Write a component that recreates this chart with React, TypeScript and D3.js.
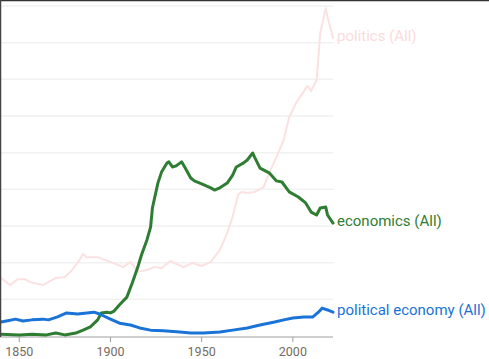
import React from "react";
import * as d3 from "d3";

const politicsYears = [1840,1845,1849,1853,1856,1863,1870,1875,1879,1883,1885,1887,1893,1900,1907,1911,1915,1920,1924,1928,1933,1935,1940,1945,1950,1955,1960,1964,1967,1970,1972,1975,1979,1984,1987,1991,1995,1998,2002,2008,2010,2013,2015,2018,2019,2022];
const politicsValues = [1.58,1.39,1.55,1.55,1.47,1.39,1.58,1.61,1.80,2.07,2.24,2.15,2.15,2.02,1.88,2.02,1.75,1.80,1.88,1.85,2.05,1.99,1.88,1.99,1.91,2.02,2.35,2.81,3.25,3.85,3.93,3.90,3.93,4.06,4.45,4.88,5.35,5.97,6.38,6.82,6.68,6.98,8.26,8.94,8.70,8.13];

const economicsYears = [1840,1850,1857,1865,1870,1875,1881,1885,1889,1893,1895,1898,1900,1902,1905,1909,1912,1915,1917,1920,1922,1923,1926,1928,1931,1932,1934,1936,1939,1941,1944,1946,1950,1955,1957,1960,1964,1967,1969,1973,1975,1978,1979,1982,1987,1991,1994,1998,2003,2007,2010,2013,2015,2018,2019,2022];
const economicsValues = [0.05,0.03,0.05,0.03,0.08,0.03,0.08,0.16,0.25,0.44,0.63,0.65,0.63,0.68,0.85,1.06,1.45,1.88,2.21,2.62,2.97,3.49,4.17,4.47,4.72,4.75,4.61,4.64,4.75,4.58,4.31,4.23,4.15,4.04,3.98,4.04,4.17,4.39,4.61,4.72,4.80,4.99,4.88,4.58,4.45,4.23,4.20,3.93,3.79,3.63,3.38,3.30,3.49,3.52,3.30,3.08];

const polEconYears = [1840,1843,1848,1852,1857,1863,1866,1871,1876,1882,1887,1891,1894,1900,1905,1911,1916,1922,1929,1938,1944,1951,1960,1967,1975,1982,1990,1995,2000,2006,2011,2014,2016,2019,2022];
const polEconValues = [0.38,0.41,0.46,0.41,0.44,0.46,0.44,0.52,0.63,0.60,0.63,0.65,0.60,0.46,0.35,0.30,0.22,0.16,0.14,0.11,0.08,0.08,0.11,0.16,0.22,0.30,0.38,0.44,0.49,0.52,0.52,0.65,0.76,0.71,0.65];

const tickYears = [1850, 1900, 1950, 2000];
const gridValues = [1, 2, 3, 4, 5, 6, 7, 8, 9];

const series = [
  { name: "politics (All)", years: politicsYears, values: politicsValues, color: "#fbe1e1", label: "#fbdcdc", width: 2 },
  { name: "economics (All)", years: economicsYears, values: economicsValues, color: "#2e7d32", label: "#2e7d32", width: 3 },
  { name: "political economy (All)", years: polEconYears, values: polEconValues, color: "#1a73d6", label: "#1a73d6", width: 3 },
];

export default function App() {
  const W = 489, H = 359;
  const x = d3.scaleLinear().domain([1840, 2022]).range([1, 333]);
  const y = d3.scaleLinear().domain([0, 9]).range([336, 6]);
  const line = d3.line<[number, number]>()
    .x((d) => x(d[0]))
    .y((d) => y(d[1]))
    .curve(d3.curveLinear);

  return (
    <svg width={W} height={H} style={{ position: "absolute", left: 0, top: 0 }} fontFamily="Roboto, sans-serif">
      <rect width={W} height={H} fill="#fff" />
      {gridValues.map((g) => (
        <line key={g} x1={0} x2={333} y1={y(g)} y2={y(g)} stroke="#f1f1f1" strokeWidth={1.5} />
      ))}
      <line x1={0} x2={333} y1={337} y2={337} stroke="#9e9e9e" strokeWidth={1} />
      {tickYears.map((t) => (
        <g key={t}>
          <line x1={x(t)} x2={x(t)} y1={337} y2={342} stroke="#9e9e9e" />
          <text x={x(t)} y={356} textAnchor="middle" fontSize={12.5} fill="#756b62">{t}</text>
        </g>
      ))}
      {series.map((s) => (
        <path key={s.name}
          d={line(s.years.map((yr, i) => [yr, s.values[i]] as [number, number])) || ""}
          fill="none" stroke={s.color} strokeWidth={s.width} strokeLinejoin="round" strokeLinecap="round" />
      ))}
      {series.map((s) => (
        <text key={s.name + "l"} x={337} y={y(s.values[s.values.length - 1]) - 2} dy="0.35em"
          fontSize={15} fill={s.label}>{s.name}</text>
      ))}
      <line x1={0} x2={W} y1={0.5} y2={0.5} stroke="#333" strokeWidth={1.5} />
      <line x1={0.5} x2={0.5} y1={0} y2={337} stroke="#444" strokeWidth={1.5} />
    </svg>
  );
}
